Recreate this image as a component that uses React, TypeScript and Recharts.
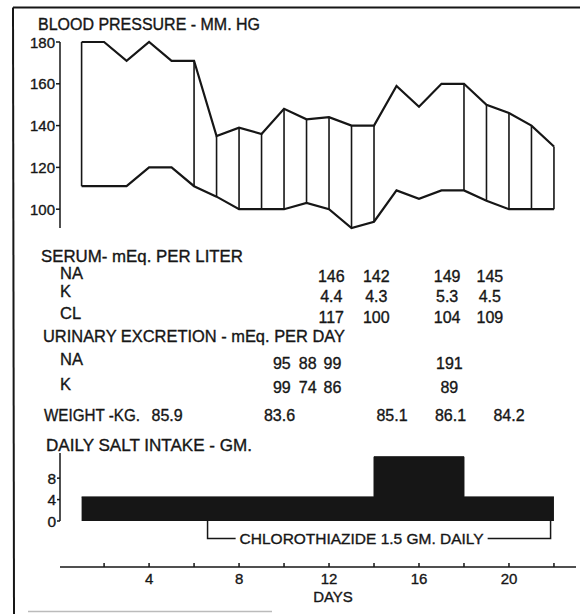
import React from 'react';
import { ComposedChart, Line, Area, Scatter, XAxis, YAxis, ReferenceLine } from 'recharts';

// ---------- DATA ----------
const days = [1, 2, 3, 4, 5, 6, 7, 8, 9, 10, 11, 12, 13, 14, 15, 16, 17, 18, 19, 20, 21, 22];
const systolic = [180, 180, 171, 180, 171, 171, 135, 139, 136, 148, 143, 144, 140, 140, 159, 149, 160, 160, 150, 146, 140, 130];
const diastolic = [111, 111, 111, 120, 120, 111, 106, 100, 100, 100, 103, 100, 91, 94, 109, 105, 109, 109, 104, 100, 100, 100];
const verticalDays = [1, 6, 7, 8, 9, 10, 11, 12, 13, 14, 18, 19, 20, 21, 22];
const bpTicks = [100, 120, 140, 160, 180];

const serumDays = [12.1, 14.1, 17.25, 19.15];
const serumNa = ['146', '142', '149', '145'];
const serumK = ['4.4', '4.3', '5.3', '4.5'];
const serumCl = ['117', '100', '104', '109'];

const urineDays = [9.9, 11.05, 12.15, 17.35];
const urineNa = ['95', '88', '99', '191'];
const urineK = ['99', '74', '86', '89'];

const weightDays = [4.8, 9.8, 14.8, 17.4, 20.0];
const weights = ['85.9', '83.6', '85.1', '86.1', '84.2'];

const saltDays = [1, 14, 18, 22];
const saltGm = [4.5, 12, 4.5, 4.5];
const saltTicks = [0, 4, 8];

const drugStart = 6.6;
const drugEnd = 21.85;
const drugLabel = 'CHLOROTHIAZIDE 1.5 GM. DAILY';

const dayTicks = [2, 4, 6, 8, 10, 12, 14, 16, 18, 20, 22];

// ---------- LAYOUT ----------
const W = 580;
const H = 614;
const XDOMAIN: [number, number] = [0.04, 22.98];
const FONT = '"Liberation Sans", Arial, sans-serif';
const INK = '#161616';
const TEXT_STROKE = 0.35;

const bpData = days.map((d, i) => ({ day: d, sys: systolic[i], dia: diastolic[i] }));
const saltData = saltDays.map((d, i) => ({ day: d, salt: saltGm[i] }));

const rowSlots = { sNa: 0, sK: 1, sCl: 2, uNa: 4.19, uK: 5.29, wt: 6.62 };
const tableData: { day: number; row: number; text: string }[] = [];
serumDays.forEach((d, i) => {
  tableData.push({ day: d, row: rowSlots.sNa, text: serumNa[i] });
  tableData.push({ day: d, row: rowSlots.sK, text: serumK[i] });
  tableData.push({ day: d, row: rowSlots.sCl, text: serumCl[i] });
});
urineDays.forEach((d, i) => {
  tableData.push({ day: d, row: rowSlots.uNa, text: urineNa[i] });
  tableData.push({ day: d, row: rowSlots.uK, text: urineK[i] });
});
weightDays.forEach((d, i) => tableData.push({ day: d, row: rowSlots.wt, text: weights[i] }));

const bracketData = [
  { day: drugStart, y: 1 },
  { day: drugStart, y: 0.62 },
  { day: drugEnd, y: 0.62 },
  { day: drugEnd, y: 1 },
];
const bracketLabelData = [{ day: 13.45, y: 0.62, text: drugLabel }];

const textProps = { fontFamily: FONT, fill: INK, stroke: INK, strokeWidth: TEXT_STROKE };

// ---------- CUSTOM RENDERERS ----------
const BpTick = (props: any) => {
  const { x, y, payload } = props;
  return (
    <text x={x} y={y} textAnchor="end" dominantBaseline="central" fontSize={15} {...textProps}>
      {payload.value}
    </text>
  );
};

const SaltTick = (props: any) => {
  const { x, y, payload } = props;
  return (
    <text x={x} y={y} textAnchor="end" dominantBaseline="central" fontSize={15.5} {...textProps}>
      {payload.value}
    </text>
  );
};

const DayTick = (props: any) => {
  const { x, y, payload } = props;
  const v = payload.value;
  return (
    <g>
      <line x1={x} x2={x} y1={y} y2={y - 4} stroke={INK} strokeWidth={1.5} />
      {v % 4 === 0 && (
        <text x={x} y={y + 17} textAnchor="middle" fontSize={15} {...textProps}>
          {v}
        </text>
      )}
    </g>
  );
};

const CellText = (props: any) => {
  const { cx, cy, payload } = props;
  return (
    <text x={cx} y={cy} textAnchor="middle" dominantBaseline="central" fontSize={16} {...textProps}>
      {payload.text}
    </text>
  );
};

const BracketText = (props: any) => {
  const { cx, cy, payload } = props;
  return (
    <g>
      <rect x={cx - 126} y={cy - 9} width={252} height={18} fill="#fff" />
      <text
        x={cx}
        y={cy}
        textAnchor="middle"
        dominantBaseline="central"
        fontSize={15}
        textLength={244}
        lengthAdjust="spacingAndGlyphs"
        {...textProps}
      >
        {payload.text}
      </text>
    </g>
  );
};

const Label = ({ x, y, w, size = 16.5, children }: { x: number; y: number; w?: number; size?: number; children: string }) => (
  <text
    x={x}
    y={y}
    dominantBaseline="central"
    fontSize={size}
    {...textProps}
    {...(w ? { textLength: w, lengthAdjust: 'spacingAndGlyphs' } : {})}
  >
    {children}
  </text>
);

const layer: React.CSSProperties = { position: 'absolute', left: 0, top: 0 };

export default function App() {
  return (
    <div style={{ position: 'absolute', left: 0, top: 0, width: W, height: H, background: '#fff', overflow: 'hidden' }}>
      {/* frame and static labels */}
      <svg width={W} height={H} style={layer}>
        <line x1={13} y1={7.5} x2={W} y2={7.5} stroke={INK} strokeWidth={2} />
        <line x1={13} y1={7.5} x2={14} y2={H} stroke={INK} strokeWidth={2} />
        <line x1={28} y1={611.5} x2={272} y2={611.5} stroke="#bbb" strokeWidth={1.5} />
        <Label x={38} y={24.5} w={222} size={16}>BLOOD PRESSURE - MM. HG</Label>
        <Label x={41} y={256} w={202}>SERUM- mEq. PER LITER</Label>
        <Label x={60} y={273}>NA</Label>
        <Label x={60} y={291}>K</Label>
        <Label x={60} y={313}>CL</Label>
        <Label x={43} y={336} w={302}>URINARY EXCRETION - mEq. PER DAY</Label>
        <Label x={60} y={358.5}>NA</Label>
        <Label x={60} y={383.5}>K</Label>
        <Label x={44} y={415} w={96}>WEIGHT -KG.</Label>
        <Label x={46} y={444.5} w={206}>DAILY SALT INTAKE - GM.</Label>
        <text x={333} y={596} textAnchor="middle" dominantBaseline="central" fontSize={15} {...textProps}>
          DAYS
        </text>
      </svg>

      {/* blood pressure */}
      <div style={layer}>
        <ComposedChart width={W} height={H} data={bpData} margin={{ top: 42, right: 4, bottom: 386, left: 0 }}>
          <XAxis dataKey="day" type="number" domain={XDOMAIN} allowDataOverflow hide />
          <YAxis
            type="number"
            domain={[100, 180]}
            ticks={bpTicks}
            width={60}
            axisLine={{ stroke: INK, strokeWidth: 1.5 }}
            tickLine={{ stroke: INK, strokeWidth: 1.5 }}
            tickSize={4}
            tickMargin={1}
            tick={<BpTick />}
            interval={0}
          />
          {verticalDays.map((d) => {
            const i = days.indexOf(d);
            return (
              <ReferenceLine
                key={d}
                segment={[
                  { x: d, y: diastolic[i] },
                  { x: d, y: systolic[i] },
                ]}
                stroke={INK}
                strokeWidth={1.6}
              />
            );
          })}
          <Line dataKey="sys" type="linear" stroke={INK} strokeWidth={2.2} dot={false} isAnimationActive={false} />
          <Line dataKey="dia" type="linear" stroke={INK} strokeWidth={2.2} dot={false} isAnimationActive={false} />
        </ComposedChart>
      </div>

      {/* tables */}
      <div style={layer}>
        <ComposedChart width={W} height={H} margin={{ top: 276, right: 4, bottom: H - 415, left: 60 }}>
          <XAxis dataKey="day" type="number" domain={XDOMAIN} allowDataOverflow hide />
          <YAxis dataKey="row" type="number" domain={[0, 6.62]} reversed hide />
          <Scatter data={tableData} dataKey="row" shape={<CellText />} isAnimationActive={false} />
        </ComposedChart>
      </div>

      {/* salt intake */}
      <div style={layer}>
        <ComposedChart width={W} height={H} data={saltData} margin={{ top: 453, right: 4, bottom: H - 521, left: 0 }}>
          <XAxis dataKey="day" type="number" domain={XDOMAIN} allowDataOverflow hide />
          <YAxis
            type="number"
            domain={[0, 12.7]}
            ticks={saltTicks}
            width={60}
            axisLine={{ stroke: INK, strokeWidth: 1.5 }}
            tickLine={{ stroke: INK, strokeWidth: 1.5 }}
            tickSize={3}
            tickMargin={1}
            tick={<SaltTick />}
            interval={0}
          />
          <Area
            dataKey="salt"
            type="stepAfter"
            stroke={INK}
            strokeWidth={1}
            fill={INK}
            fillOpacity={1}
            isAnimationActive={false}
          />
        </ComposedChart>
      </div>

      {/* chlorothiazide bracket and day axis */}
      <div style={layer}>
        <ComposedChart width={W} height={H} margin={{ top: 521, right: 4, bottom: 7, left: 60 }}>
          <XAxis
            dataKey="day"
            type="number"
            domain={XDOMAIN}
            allowDataOverflow
            ticks={dayTicks}
            interval={0}
            height={40}
            axisLine={{ stroke: INK, strokeWidth: 1.5 }}
            tickLine={false}
            tickSize={0}
            tickMargin={0}
            tick={<DayTick />}
          />
          <YAxis dataKey="y" type="number" domain={[0, 1]} hide />
          <Line
            data={bracketData}
            dataKey="y"
            type="linear"
            stroke={INK}
            strokeWidth={1.5}
            dot={false}
            isAnimationActive={false}
          />
          <Scatter data={bracketLabelData} dataKey="y" shape={<BracketText />} isAnimationActive={false} />
        </ComposedChart>
      </div>
    </div>
  );
}
